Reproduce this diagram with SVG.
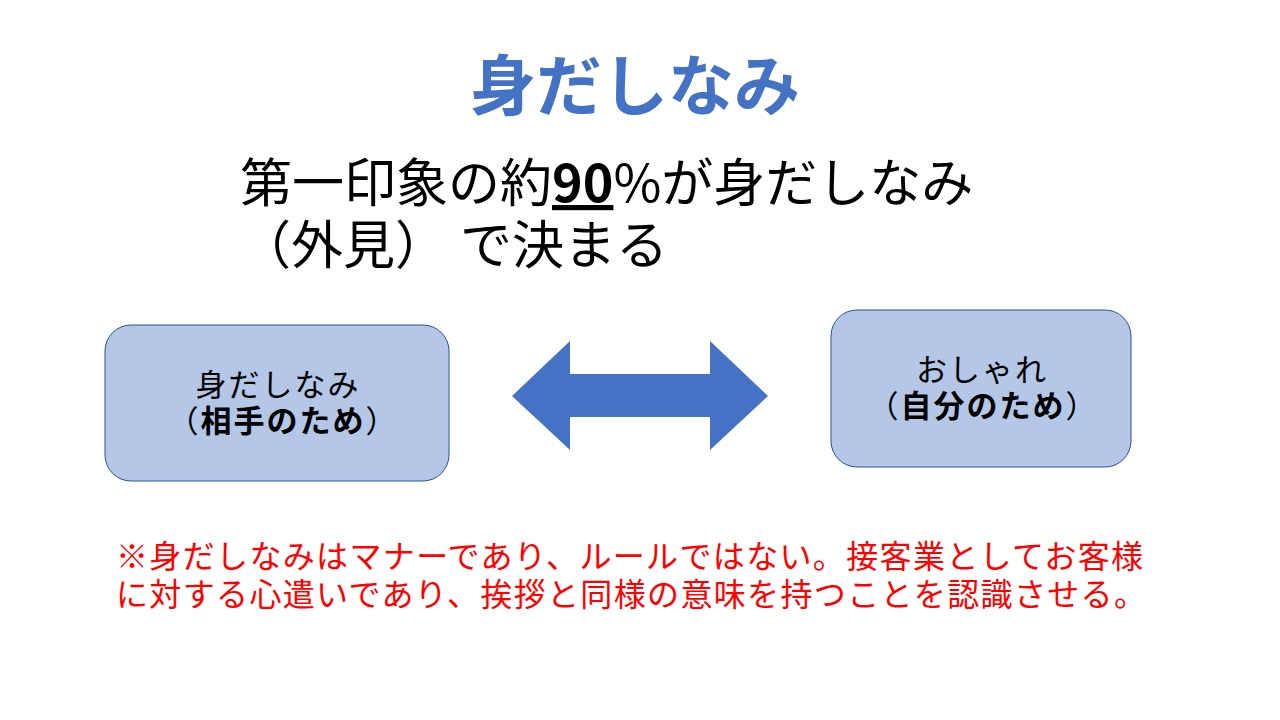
<svg xmlns="http://www.w3.org/2000/svg" width="1280" height="720" viewBox="0 0 1280 720">
<style>
.jp{font-family:"Noto Sans CJK JP","Noto Sans",sans-serif;}
.title{font-size:66px;font-weight:700;fill:#4472C4;}
.sub{font-size:52px;fill:#000000;}
.box{fill:#B4C7E7;stroke:#2F528F;stroke-width:1;}
.boxtxt{font-size:31px;fill:#000000;letter-spacing:2px;}
.b{font-weight:700;}
.note{font-size:32px;fill:#FF0000;letter-spacing:1.35px;}
.arrow{fill:#4472C4;}
</style>
<rect width="1280" height="720" fill="#FFFFFF"/>
<g id="title">
<text class="jp title" x="635" y="110" text-anchor="middle">身だしなみ</text>
</g>
<g id="subtitle">
<text class="jp sub" x="240" y="202">第一印象の約<tspan class="b" text-decoration="underline">90</tspan>%が身だしなみ</text>
<text class="jp sub" x="239" y="264">（外見）<tspan x="460">で決まる</tspan></text>
</g>
<g id="node-left">
<rect class="box" x="105" y="325" width="344" height="156" rx="26" ry="26"/>
<text class="jp boxtxt" x="278" y="396" text-anchor="middle">身だしなみ</text>
<text class="jp boxtxt" x="283" y="432" text-anchor="middle">（<tspan class="b">相手のため</tspan>）</text>
</g>
<g id="node-right">
<rect class="box" x="831" y="310" width="300" height="157" rx="26" ry="26"/>
<text class="jp boxtxt" x="982" y="381" text-anchor="middle">おしゃれ</text>
<text class="jp boxtxt" x="983" y="417" text-anchor="middle">（<tspan class="b">自分のため</tspan>）</text>
</g>
<g id="connectors">
<polygon class="arrow" points="512,396 570,341 570,374 710,374 710,341 768,396 710,450 710,417 570,417 570,450"/>
</g>
<g id="note">
<text class="jp note" x="116" y="568">※身だしなみはマナーであり、ルールではない。接客業としてお客様</text>
<text class="jp note" x="116" y="606">に対する心遣いであり、挨拶と同様の意味を持つことを認識させる。</text>
</g>
</svg>
